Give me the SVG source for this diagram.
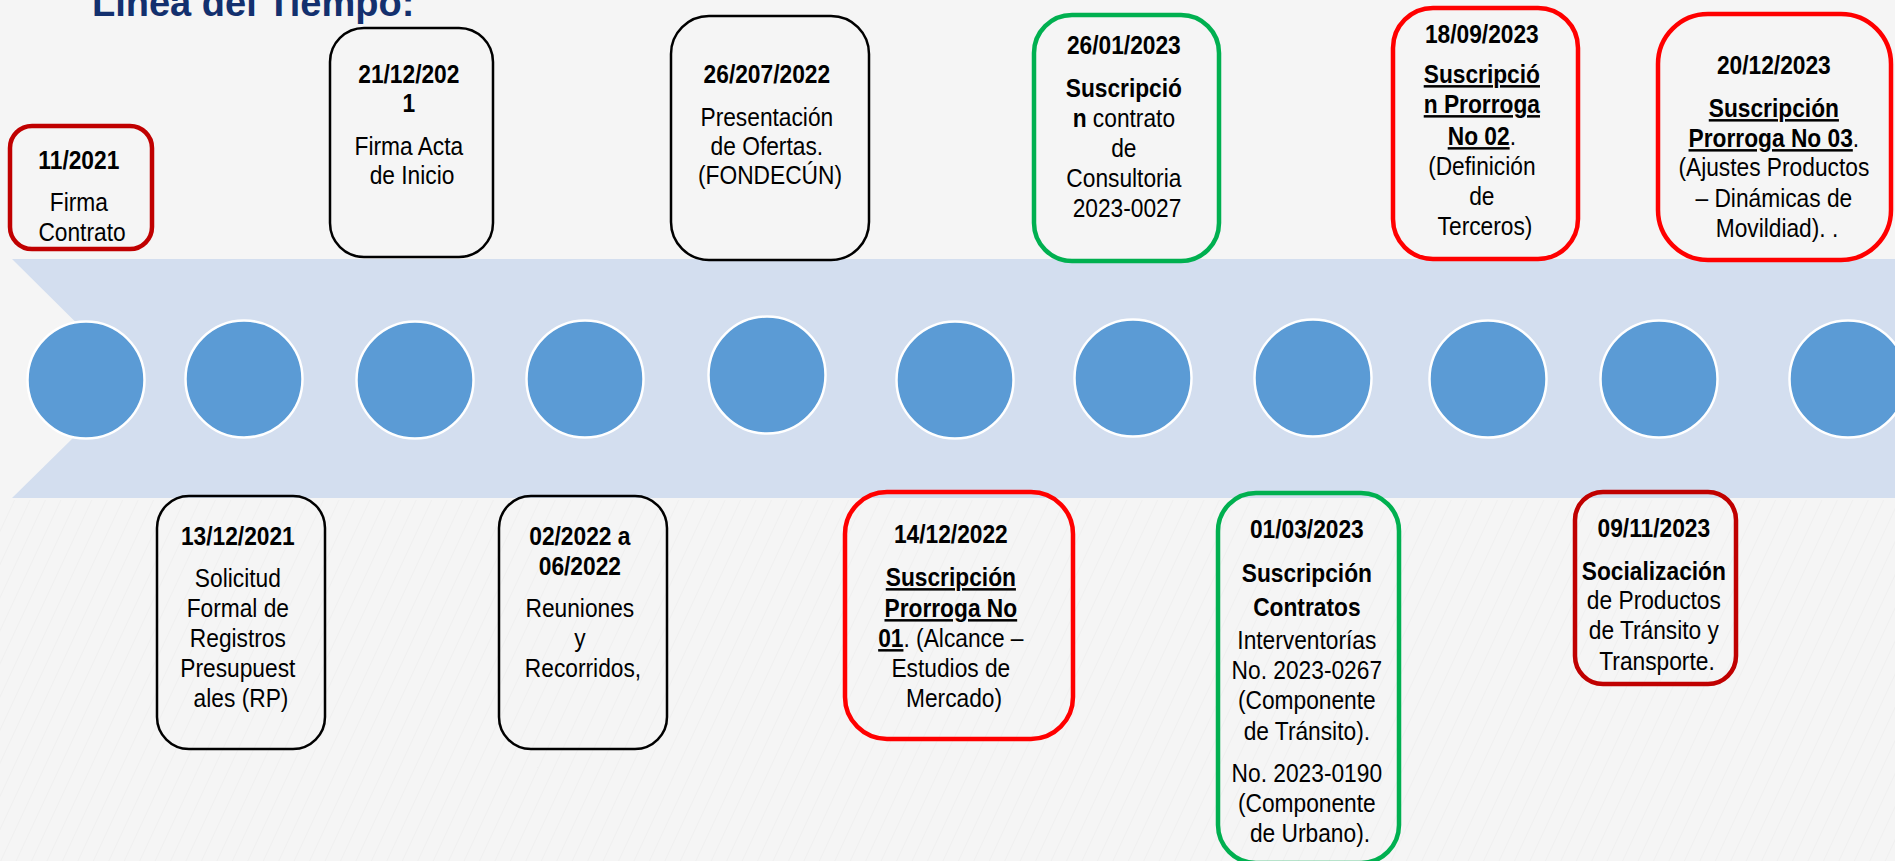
<svg xmlns="http://www.w3.org/2000/svg" width="1895" height="861" viewBox="0 0 1895 861">
<defs>
<style>
.t{font-family:"Liberation Sans",Arial,sans-serif;font-size:25px;fill:#000;text-anchor:middle}
.b{font-weight:bold}
.u{text-decoration:underline}
.blk{fill:none;stroke:#000;stroke-width:2.5}
.red{fill:none;stroke:#FF0000;stroke-width:4.5}
.dred{fill:none;stroke:#C00000;stroke-width:4.5}
.grn{fill:none;stroke:#00B050;stroke-width:4.5}
.dot{fill:#5B9BD5;stroke:#FFFFFF;stroke-width:2.5}
.title{font-family:"Liberation Sans",Arial,sans-serif;font-size:38px;font-weight:bold;fill:#13306E}
</style>
<pattern id="streaks" width="14" height="14" patternUnits="userSpaceOnUse" patternTransform="rotate(25)">
<line x1="0" y1="0" x2="0" y2="14" stroke="#E6E6E6" stroke-width="1.2"/>
</pattern>
</defs>
<rect x="0" y="0" width="1895" height="861" fill="#F5F5F5"/>
<rect x="0" y="500" width="1895" height="361" fill="url(#streaks)" opacity="0.6"/>
<text class="title" x="92" y="16">Línea del Tiempo:</text>

<g id="timeline">
<polygon points="12,259 1900,259 1900,498 12,498 133,379" fill="#D3DEEF"/>
<circle class="dot" cx="86" cy="380" r="58.5"/>
<circle class="dot" cx="244" cy="379" r="58.5"/>
<circle class="dot" cx="415" cy="380" r="58.5"/>
<circle class="dot" cx="585" cy="379" r="58.5"/>
<circle class="dot" cx="767" cy="375" r="58.5"/>
<circle class="dot" cx="955" cy="380" r="58.5"/>
<circle class="dot" cx="1133" cy="378" r="58.5"/>
<circle class="dot" cx="1313" cy="378" r="58.5"/>
<circle class="dot" cx="1488" cy="379" r="58.5"/>
<circle class="dot" cx="1659" cy="379" r="58.5"/>
<circle class="dot" cx="1848" cy="379" r="58.5"/>
</g>

<g id="connectors"></g>

<g id="n1">
<rect class="dred" x="10" y="126" width="142" height="123" rx="22"/>
<g transform="translate(82 0) scale(0.91 1)"><text class="t">
<tspan x="0" y="169" class="b">11/2021</tspan>
<tspan x="0" y="211">Firma</tspan>
<tspan x="0" y="241">Contrato</tspan>
</text></g>
</g>

<g id="n2">
<rect class="blk" x="330" y="28" width="163" height="229" rx="34"/>
<g transform="translate(412 0) scale(0.91 1)"><text class="t">
<tspan x="0" y="83" class="b">21/12/202</tspan>
<tspan x="0" y="112" class="b">1</tspan>
<tspan x="0" y="155">Firma Acta</tspan>
<tspan x="0" y="184">de Inicio</tspan>
</text></g>
</g>

<g id="n3">
<rect class="blk" x="671" y="16" width="198" height="244" rx="38"/>
<g transform="translate(770 0) scale(0.91 1)"><text class="t">
<tspan x="0" y="83" class="b">26/207/2022</tspan>
<tspan x="0" y="126">Presentación</tspan>
<tspan x="0" y="155">de Ofertas.</tspan>
<tspan x="0" y="184">(FONDECÚN)</tspan>
</text></g>
</g>

<g id="n4">
<rect class="grn" x="1034" y="15" width="185" height="246" rx="38"/>
<g transform="translate(1127 0) scale(0.91 1)"><text class="t">
<tspan x="0" y="54" class="b">26/01/2023</tspan>
<tspan x="0" y="97" class="b">Suscripció</tspan>
<tspan x="0" y="127"><tspan class="b">n</tspan> contrato</tspan>
<tspan x="0" y="157">de</tspan>
<tspan x="0" y="187">Consultoria</tspan>
<tspan x="0" y="217">2023-0027</tspan>
</text></g>
</g>

<g id="n5">
<rect class="red" x="1393" y="8" width="185" height="251" rx="40"/>
<g transform="translate(1485 0) scale(0.91 1)"><text class="t">
<tspan x="0" y="43" class="b">18/09/2023</tspan>
<tspan x="0" y="83" class="b u">Suscripció</tspan>
<tspan x="0" y="113" class="b u">n Prorroga</tspan>
<tspan x="0" y="145"><tspan class="b u">No 02</tspan>.</tspan>
<tspan x="0" y="175">(Definición</tspan>
<tspan x="0" y="205">de</tspan>
<tspan x="0" y="235">Terceros)</tspan>
</text></g>
</g>

<g id="n6">
<rect class="red" x="1658" y="14" width="233" height="246" rx="50"/>
<g transform="translate(1777 0) scale(0.91 1)"><text class="t">
<tspan x="0" y="74" class="b">20/12/2023</tspan>
<tspan x="0" y="117" class="b u">Suscripción</tspan>
<tspan x="0" y="147"><tspan class="b u">Prorroga No 03</tspan>.</tspan>
<tspan x="0" y="176">(Ajustes Productos</tspan>
<tspan x="0" y="207">– Dinámicas de</tspan>
<tspan x="0" y="237">Movildiad). .</tspan>
</text></g>
</g>

<g id="n7">
<rect class="blk" x="157" y="496" width="168" height="253" rx="32"/>
<g transform="translate(241 0) scale(0.91 1)"><text class="t">
<tspan x="0" y="545" class="b">13/12/2021</tspan>
<tspan x="0" y="587">Solicitud</tspan>
<tspan x="0" y="617">Formal de</tspan>
<tspan x="0" y="647">Registros</tspan>
<tspan x="0" y="677">Presupuest</tspan>
<tspan x="0" y="707">ales (RP)</tspan>
</text></g>
</g>

<g id="n8">
<rect class="blk" x="499" y="496" width="168" height="253" rx="32"/>
<g transform="translate(583 0) scale(0.91 1)"><text class="t">
<tspan x="0" y="545" class="b">02/2022 a</tspan>
<tspan x="0" y="575" class="b">06/2022</tspan>
<tspan x="0" y="617">Reuniones</tspan>
<tspan x="0" y="647">y</tspan>
<tspan x="0" y="677">Recorridos,</tspan>
</text></g>
</g>

<g id="n9">
<rect class="red" x="845" y="492" width="228" height="247" rx="42"/>
<g transform="translate(954 0) scale(0.91 1)"><text class="t">
<tspan x="0" y="543" class="b">14/12/2022</tspan>
<tspan x="0" y="586" class="b u">Suscripción</tspan>
<tspan x="0" y="617" class="b u">Prorroga No</tspan>
<tspan x="0" y="647"><tspan class="b u">01</tspan>. (Alcance –</tspan>
<tspan x="0" y="677">Estudios de</tspan>
<tspan x="0" y="707">Mercado)</tspan>
</text></g>
</g>

<g id="n10">
<rect class="grn" x="1218" y="493" width="181" height="370" rx="38"/>
<g transform="translate(1310 0) scale(0.91 1)"><text class="t">
<tspan x="0" y="538" class="b">01/03/2023</tspan>
<tspan x="0" y="582" class="b">Suscripción</tspan>
<tspan x="0" y="616" class="b">Contratos</tspan>
<tspan x="0" y="649">Interventorías</tspan>
<tspan x="0" y="679">No. 2023-0267</tspan>
<tspan x="0" y="709">(Componente</tspan>
<tspan x="0" y="740">de Tránsito).</tspan>
<tspan x="0" y="782">No. 2023-0190</tspan>
<tspan x="0" y="812">(Componente</tspan>
<tspan x="0" y="842">de Urbano).</tspan>
</text></g>
</g>

<g id="n11">
<rect class="dred" x="1575" y="492" width="161" height="192" rx="28"/>
<g transform="translate(1657 0) scale(0.91 1)"><text class="t">
<tspan x="0" y="537" class="b">09/11/2023</tspan>
<tspan x="0" y="580" class="b">Socialización</tspan>
<tspan x="0" y="609">de Productos</tspan>
<tspan x="0" y="639">de Tránsito y</tspan>
<tspan x="0" y="670">Transporte.</tspan>
</text></g>
</g>
</svg>
